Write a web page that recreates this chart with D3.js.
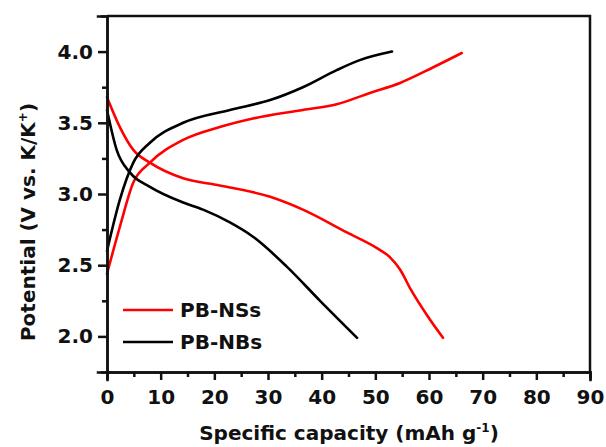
<!DOCTYPE html>
<html>
<head>
<meta charset="utf-8">
<script src="https://cdn.jsdelivr.net/npm/d3@7"></script>
<style>
  body { margin: 0; background: #fff; }
  svg text { font-family: "DejaVu Sans", sans-serif; font-weight: bold; fill: #111; }
</style>
</head>
<body>
<div class="chart"></div>
<script>
// Chart data (capacity in mAh/g, potential in V)
const nsChargeCap = [0, 2.4, 4.9, 8, 14.2, 21, 27.2, 36.5, 42.8, 49, 54.6, 60.8, 66.1];
const nsChargeV   = [2.44, 2.77, 3.08, 3.22, 3.38, 3.47, 3.53, 3.59, 3.63, 3.71, 3.78, 3.89, 3.99];
const nsDischCap  = [0, 2.4, 4.9, 8, 14.2, 21, 30.4, 36.5, 44.7, 50.3, 52.6, 54.6, 56.6, 59.6, 62.6];
const nsDischV    = [3.68, 3.47, 3.31, 3.22, 3.11, 3.06, 2.98, 2.89, 2.73, 2.62, 2.56, 2.47, 2.33, 2.15, 1.99];
const nbChargeCap = [0, 2.4, 4.9, 8, 14.2, 22.9, 30.4, 36.5, 42.8, 47.1, 53.1];
const nbChargeV   = [2.60, 2.96, 3.22, 3.36, 3.50, 3.59, 3.66, 3.75, 3.87, 3.94, 4.00];
const nbDischCap  = [0, 1.8, 4.3, 8, 14.2, 17.9, 22.9, 27.2, 33.5, 39.7, 46.6];
const nbDischV    = [3.59, 3.31, 3.15, 3.05, 2.94, 2.89, 2.80, 2.70, 2.49, 2.25, 1.99];

const seriesNames = ["PB-NSs", "PB-NBs"];
const seriesColors = ["#ff0000", "#000000"];
const xTicks = [0, 10, 20, 30, 40, 50, 60, 70, 80, 90];
const yTicks = [2.0, 2.5, 3.0, 3.5, 4.0];

const w = 606, h = 447;
const m = {top: 16, right: 16, bottom: 75, left: 107};

const svg = d3.select(".chart").append("svg")
    .attr("width", w)
    .attr("height", h);

const x = d3.scaleLinear().domain([0, 90]).range([m.left, w - m.right]);
const y = d3.scaleLinear().domain([1.75, 4.25]).range([h - m.bottom, m.top]);

const curves = [
  {cap: nsChargeCap, v: nsChargeV, s: 0},
  {cap: nsDischCap, v: nsDischV, s: 0},
  {cap: nbChargeCap, v: nbChargeV, s: 1},
  {cap: nbDischCap, v: nbDischV, s: 1}
];

const line = d3.line()
    .x(d => x(d[0]))
    .y(d => y(d[1]))
    .curve(d3.curveMonotoneX);

curves.forEach(c => {
  svg.append("path")
    .datum(c.cap.map((d, i) => [d, c.v[i]]))
    .attr("fill", "none")
    .attr("stroke", seriesColors[c.s])
    .attr("stroke-width", 2.6)
    .attr("stroke-linecap", "round")
    .attr("d", line);
});

// frame (top and right)
svg.append("path")
  .attr("d", `M${x(0)},${y(4.25)}H${x(90)}V${y(1.75)}`)
  .attr("fill", "none")
  .attr("stroke", "#111")
  .attr("stroke-width", 2.5);

// minor ticks
const xAxisMinor = d3.axisBottom(x).tickValues(d3.range(5, 90, 10)).tickSize(5).tickFormat("");
const yAxisMinor = d3.axisLeft(y).tickValues([2.25, 2.75, 3.25, 3.75]).tickSize(5).tickFormat("");
svg.append("g").attr("class", "axis").attr("transform", `translate(0,${y(1.75)})`).call(xAxisMinor);
svg.append("g").attr("class", "axis").attr("transform", `translate(${x(0)},0)`).call(yAxisMinor);

// major ticks
const xAxis = d3.axisBottom(x).tickValues(xTicks).tickSize(8).tickPadding(10).tickFormat(d3.format("d"));
const yAxis = d3.axisLeft(y).tickValues(yTicks).tickSize(9).tickPadding(5).tickFormat(d3.format(".1f"));
svg.append("g").attr("class", "axis").attr("transform", `translate(0,${y(1.75)})`).call(xAxis);
svg.append("g").attr("class", "axis").attr("transform", `translate(${x(0)},0)`).call(yAxis);

svg.selectAll(".axis path, .axis line")
  .attr("stroke", "#111")
  .attr("stroke-width", 2.5);
svg.selectAll(".axis .domain").attr("stroke-linecap", "square");
svg.selectAll(".axis text")
  .style("font-size", "20px")
  .style("font-family", "'DejaVu Sans', sans-serif")
  .style("font-weight", "bold")
  .attr("fill", "#111");

// axis titles
const xt = svg.append("text")
  .attr("x", 349)
  .attr("y", 440)
  .attr("text-anchor", "middle")
  .style("font-size", "20px");
xt.append("tspan").text("Specific capacity (mAh g");
xt.append("tspan").text("-1").style("font-size", "12px").attr("dy", -8);
xt.append("tspan").text(")").attr("dy", 8);

const yt = svg.append("text")
  .attr("transform", "translate(35,222) rotate(-90)")
  .attr("text-anchor", "middle")
  .style("font-size", "20px");
yt.append("tspan").text("Potential (V vs. K/K");
yt.append("tspan").text("+").style("font-size", "12px").attr("dy", -8);
yt.append("tspan").text(")").attr("dy", 8);

// legend
seriesNames.forEach((name, i) => {
  const ly = 310 + i * 32;
  svg.append("line")
    .attr("x1", 123).attr("x2", 173)
    .attr("y1", ly).attr("y2", ly)
    .attr("stroke", seriesColors[i])
    .attr("stroke-width", 2.6);
  svg.append("text")
    .attr("x", 180)
    .attr("y", ly + 7)
    .style("font-size", "20px")
    .text(name);
});
</script>
</body>
</html>
